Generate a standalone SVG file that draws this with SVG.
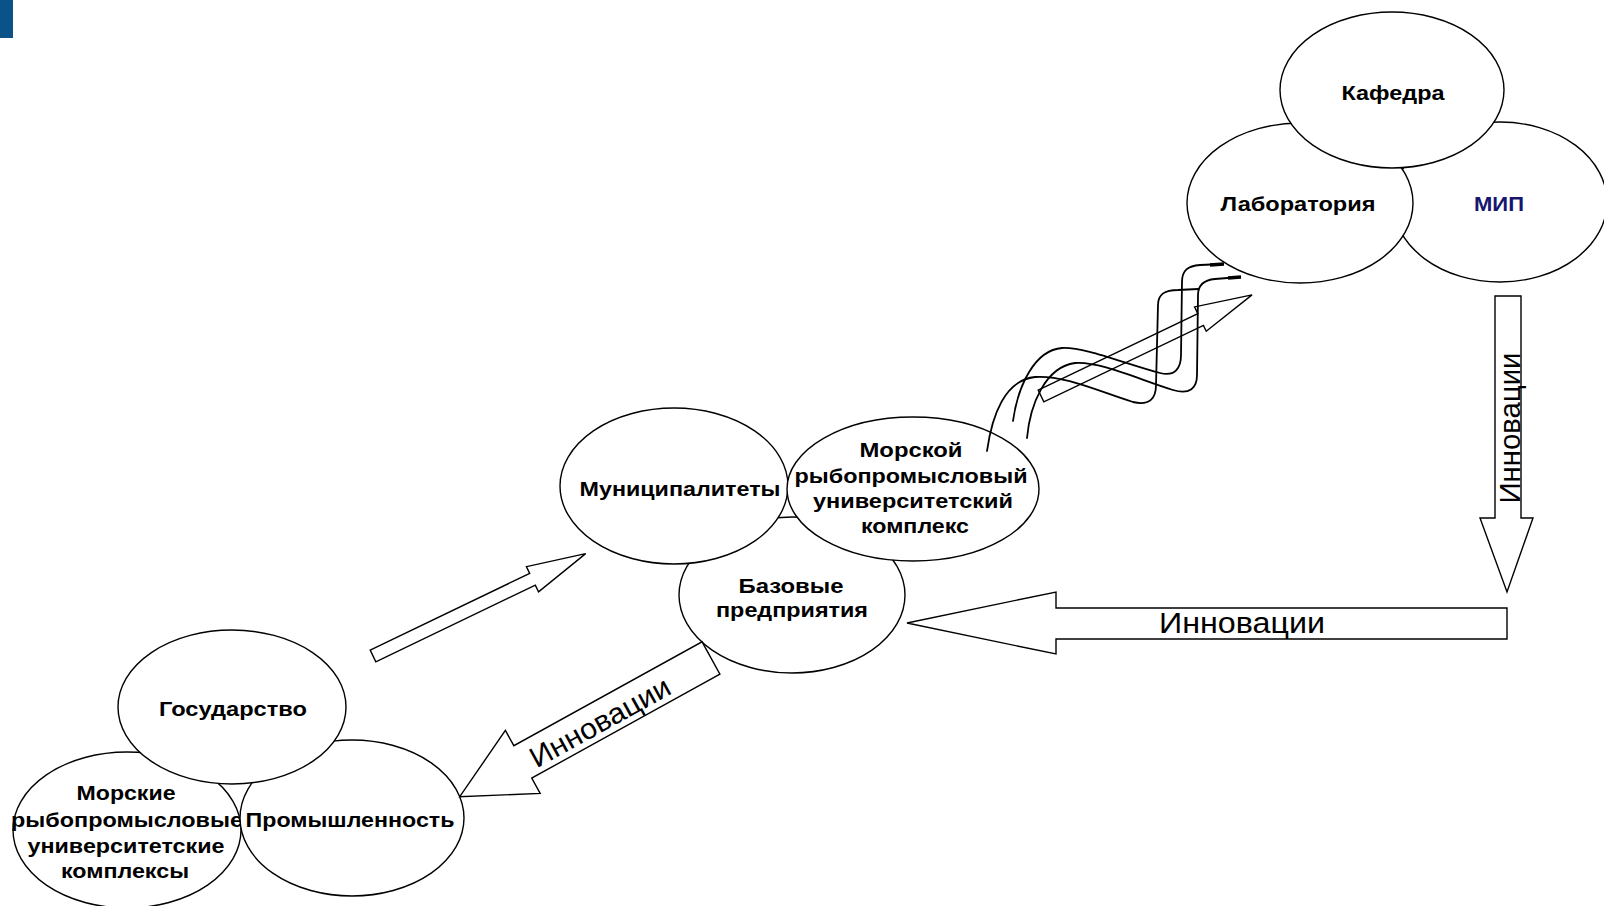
<svg xmlns="http://www.w3.org/2000/svg" width="1604" height="906" viewBox="0 0 1604 906">
<style>
.n{fill:#fff;stroke:#000;stroke-width:1.4}
.t{font-family:"Liberation Sans",Arial,sans-serif;font-weight:bold;font-size:20px;fill:#000;text-anchor:middle}
.a{fill:#fff;stroke:#000;stroke-width:1.4;stroke-linejoin:miter}
.h{fill:none;stroke:#000;stroke-width:1.4}
.w{fill:none;stroke:#000;stroke-width:1.8;stroke-linecap:round}
.at{font-family:"Liberation Sans",Arial,sans-serif;font-size:29px;fill:#000;text-anchor:middle}
</style>
<rect x="0" y="0" width="13" height="38" fill="#0b5288"/>
<g id="node-mip"><ellipse class="n" cx="1500" cy="202" rx="107" ry="80"/><text class="t" x="1499" y="211" textLength="50" lengthAdjust="spacingAndGlyphs" style="fill:#16166e">МИП</text></g>
<g id="node-lab"><ellipse class="n" cx="1300" cy="203" rx="113" ry="80"/><text class="t" x="1298" y="211" textLength="155" lengthAdjust="spacingAndGlyphs">Лаборатория</text></g>
<g id="node-kafedra"><ellipse class="n" cx="1392" cy="90" rx="112" ry="78"/><text class="t" x="1393" y="100" textLength="103" lengthAdjust="spacingAndGlyphs">Кафедра</text></g>
<g id="node-bazovye"><ellipse class="n" cx="792" cy="595" rx="113" ry="78"/><text class="t" x="791" y="593" textLength="105" lengthAdjust="spacingAndGlyphs">Базовые</text><text class="t" x="792" y="617" textLength="152" lengthAdjust="spacingAndGlyphs">предприятия</text></g>
<g id="node-muni"><ellipse class="n" cx="674" cy="486" rx="114" ry="78"/><text class="t" x="680" y="496" textLength="201" lengthAdjust="spacingAndGlyphs">Муниципалитеты</text></g>
<g id="node-morskoy"><ellipse class="n" cx="913" cy="489" rx="126" ry="72"/><text class="t" x="911" y="457" textLength="103" lengthAdjust="spacingAndGlyphs">Морской</text><text class="t" x="911" y="483" textLength="233" lengthAdjust="spacingAndGlyphs">рыбопромысловый</text><text class="t" x="913" y="508" textLength="200" lengthAdjust="spacingAndGlyphs">университетский</text><text class="t" x="915" y="533" textLength="108" lengthAdjust="spacingAndGlyphs">комплекс</text></g>
<g id="node-morskie"><ellipse class="n" cx="127" cy="830" rx="114" ry="78"/><text class="t" x="126" y="800" textLength="99" lengthAdjust="spacingAndGlyphs">Морские</text><text class="t" x="127" y="827" textLength="232" lengthAdjust="spacingAndGlyphs">рыбопромысловые</text><text class="t" x="126" y="853" textLength="197" lengthAdjust="spacingAndGlyphs">университетские</text><text class="t" x="125" y="878" textLength="128" lengthAdjust="spacingAndGlyphs">комплексы</text></g>
<g id="node-prom"><ellipse class="n" cx="352" cy="818" rx="112" ry="78"/><text class="t" x="350" y="827" textLength="209" lengthAdjust="spacingAndGlyphs">Промышленность</text></g>
<g id="node-gos"><ellipse class="n" cx="232" cy="707" rx="114" ry="77"/><text class="t" x="233" y="716" textLength="148" lengthAdjust="spacingAndGlyphs">Государство</text></g>
<g id="connectors">
<polygon class="a" transform="translate(373,656) rotate(-25.7)" points="0,-6.5 177,-6.5 177,-14 236,0 177,14 177,6.5 0,6.5"/>
<g transform="translate(711,658) rotate(151.1)"><polygon class="a" points="0,-18.5 215,-18.5 215,-36 287,0 215,36 215,18.5 0,18.5"/></g>
<text class="at" transform="translate(600,722) rotate(-28.9)" x="0" y="10" textLength="156" lengthAdjust="spacingAndGlyphs">Инновации</text>
<polygon class="a" points="1507,608 1056,608 1056,592 907,623 1056,654 1056,639 1507,639"/>
<text class="at" x="1242" y="633" textLength="166" lengthAdjust="spacingAndGlyphs">Инновации</text>
<polygon class="a" points="1495,296 1521,296 1521,518 1533,518 1507,592 1480,518 1495,518"/>
<text class="at" transform="translate(1520,428) rotate(-90)" x="0" y="0" textLength="151" lengthAdjust="spacingAndGlyphs">Инновации</text>
<polygon class="h" transform="translate(1041,396) rotate(-25.6)" points="0,-6.5 177,-6.5 177,-14 234,0 177,13 177,6.5 0,6.5"/>
<path class="w" d="M1013,421 C1018,385 1035,350 1062,348 C1085,347 1120,362 1160,373 C1175,377 1181,368 1181,355 L1182,282 C1182,270 1188,266 1200,265 L1223,264"/>
<path class="w" d="M1027,438 C1030,405 1045,367 1075,363 C1100,361 1140,380 1173,390 C1190,395 1197,388 1197,375 L1198,295 C1198,285 1204,280 1215,279 L1240,277"/>
<path class="w" d="M987,451 C992,415 1005,380 1035,377 C1065,375 1100,392 1133,402 C1150,406 1156,398 1156,385 L1158,305 C1158,294 1165,290 1178,290 L1198,289"/>
<path d="M1210,265 L1224,264 M1228,278 L1241,277" stroke="#000" stroke-width="3.5" fill="none"/>
</g>
</svg>
